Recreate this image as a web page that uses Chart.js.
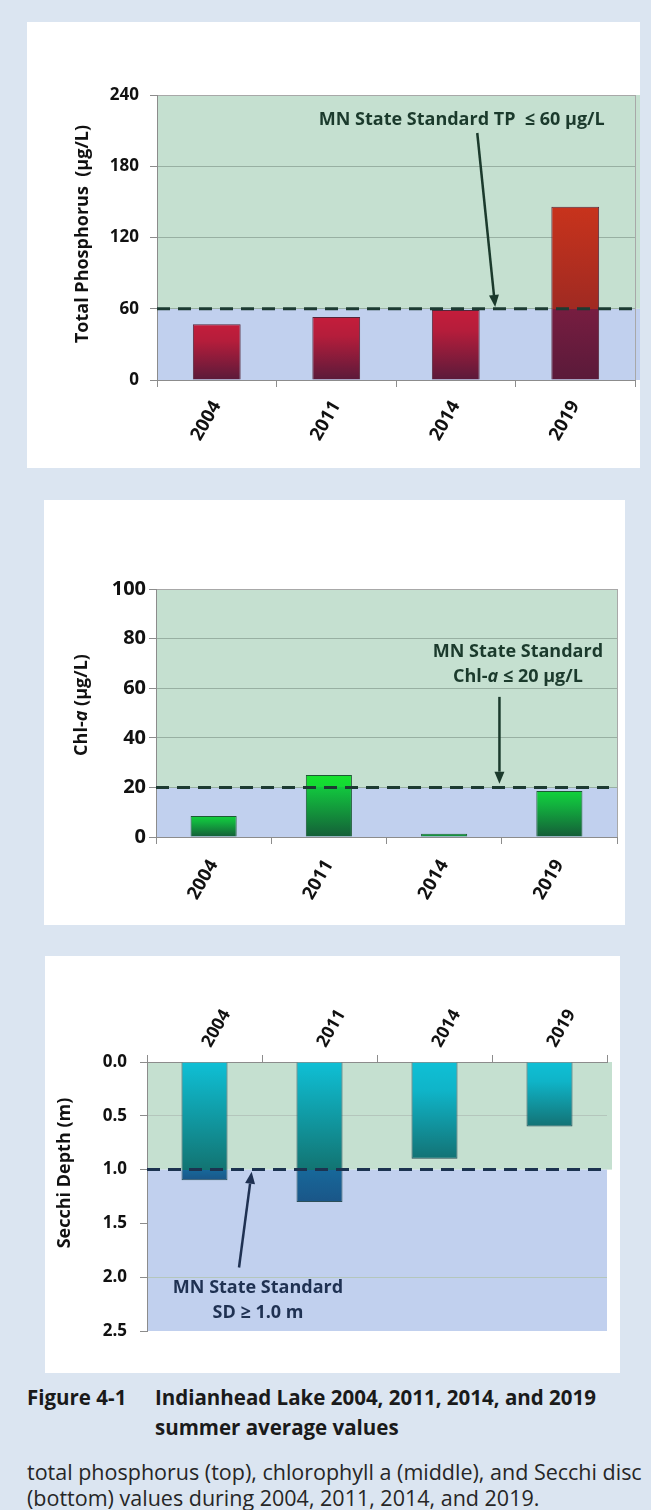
<!DOCTYPE html>
<html>
<head>
<meta charset="utf-8">
<title>Indianhead Lake summer averages</title>
<script src="https://cdn.jsdelivr.net/npm/chart.js@4.4.1/dist/chart.umd.min.js"></script>
<style>
  html, body { margin: 0; padding: 0; }
  body { width: 651px; height: 1510px; background: #dbe5f1; position: relative; overflow: hidden; font-family: "Open Sans", sans-serif; }
  .panel { position: absolute; background: #ffffff; }
  .panel canvas { display: block; }
  #p1 { left: 27px; top: 22px; width: 613px; height: 446px; }
  #p2 { left: 44px; top: 500px; width: 581px; height: 425px; }
  #p3 { left: 45px; top: 956px; width: 575px; height: 417px; }
  .cap { position: absolute; white-space: nowrap; color: #1a1a1a; }
  .fig { font-weight: bold; font-size: 20.5px; line-height: 30px; }
  .txt { font-size: 21.5px; line-height: 26px; color: #262626; }
</style>
</head>
<body>
<div class="panel" id="p1"><canvas id="tpChart" width="613" height="446"></canvas></div>
<div class="panel" id="p2"><canvas id="chlChart" width="581" height="425"></canvas></div>
<div class="panel" id="p3"><canvas id="sdChart" width="575" height="417"></canvas></div>

<div class="cap fig" style="left:27px;top:1382px;">Figure 4-1</div>
<div class="cap fig" style="left:155px;top:1382px;">Indianhead Lake 2004, 2011, 2014, and 2019<br>summer average values</div>
<div class="cap txt" style="left:27px;top:1459px;">total phosphorus (top), chlorophyll a (middle), and Secchi disc<br>(bottom) values during 2004, 2011, 2014, and 2019.</div>

<script>
var years = ["2004", "2011", "2014", "2019"];
var tpValues = [47, 53, 59, 146];      // total phosphorus, ug/L
var chlValues = [8.5, 25, 1.3, 18.5];  // chlorophyll-a, ug/L
var sdValues = [1.1, 1.3, 0.9, 0.6];   // secchi depth, m
var tpStandard = 60;
var chlStandard = 20;
var sdStandard = 1.0;
var tpTicks = [0, 60, 120, 180, 240];
var chlTicks = [0, 20, 40, 60, 80, 100];
var sdTicks = [0, 0.5, 1.0, 1.5, 2.0, 2.5];

var FONT = "'Open Sans', 'DejaVu Sans', sans-serif";
var GREEN_BAND = "#c5e0d0";
var BLUE_BAND = "#c1d0ee";
var AXIS = "#8c8c8c";

function font(size, style) {
  return (style || "") + " bold " + size + "px " + FONT;
}

// centred text made of plain / italic pieces
function drawRich(c, parts, x, y, size, color) {
  var widths = [], total = 0;
  parts.forEach(function (p) {
    c.font = font(size, p.italic ? "italic" : "");
    var w = c.measureText(p.text).width;
    widths.push(w);
    total += w;
  });
  var cx = x - total / 2;
  c.fillStyle = color;
  c.textAlign = "left";
  c.textBaseline = "middle";
  parts.forEach(function (p, i) {
    c.font = font(size, p.italic ? "italic" : "");
    c.fillText(p.text, cx, y);
    cx += widths[i];
  });
}

function drawArrow(c, x0, y0, x1, y1, color) {
  var ang = Math.atan2(y1 - y0, x1 - x0), head = 12, half = 5;
  var bx = x1 - head * Math.cos(ang), by = y1 - head * Math.sin(ang);
  c.strokeStyle = color;
  c.fillStyle = color;
  c.lineWidth = 2.5;
  c.beginPath();
  c.moveTo(x0, y0);
  c.lineTo(bx, by);
  c.stroke();
  c.beginPath();
  c.moveTo(x1, y1);
  c.lineTo(bx + half * Math.sin(ang), by - half * Math.cos(ang));
  c.lineTo(bx - half * Math.sin(ang), by + half * Math.cos(ang));
  c.closePath();
  c.fill();
}

// background bands, dashed standard line, arrow, note and y title
function standardPlugin(cfg) {
  return {
    id: "standard",
    beforeDraw: function (chart) {
      var c = chart.ctx, a = chart.chartArea, y = chart.scales.y;
      var ys = y.getPixelForValue(cfg.value);
      var yLo = y.getPixelForValue(y.min), yHi = y.getPixelForValue(y.max);
      c.save();
      c.fillStyle = cfg.lowBand;
      c.fillRect(a.left, Math.min(ys, yLo), a.width + cfg.lowExtra, Math.abs(yLo - ys));
      c.fillStyle = cfg.highBand;
      c.fillRect(a.left, Math.min(ys, yHi), a.width + cfg.highExtra, Math.abs(yHi - ys));
      c.restore();
    },
    afterDatasetsDraw: function (chart) {
      var c = chart.ctx, a = chart.chartArea, x = chart.scales.x, y = chart.scales.y;
      var ys = y.getPixelForValue(cfg.value);
      c.save();
      if (cfg.rightBorder) {
        c.strokeStyle = "#a8a8a8";
        c.lineWidth = 1;
        c.beginPath();
        c.moveTo(a.right + 0.5, a.top);
        c.lineTo(a.right + 0.5, a.bottom);
        c.stroke();
      }
      c.strokeStyle = cfg.lineColor;
      c.lineWidth = 3;
      c.setLineDash([13, 8]);
      c.beginPath();
      c.moveTo(a.left, ys);
      c.lineTo(a.right + cfg.dashExtra, ys);
      c.stroke();
      c.setLineDash([]);
      drawArrow(c,
        x.getPixelForValue(cfg.arrow.from[0]), y.getPixelForValue(cfg.arrow.from[1]),
        x.getPixelForValue(cfg.arrow.to[0]), y.getPixelForValue(cfg.arrow.to[1]),
        cfg.noteColor);
      cfg.notes.forEach(function (n) {
        drawRich(c, n.parts, x.getPixelForValue(n.at[0]), y.getPixelForValue(n.at[1]), 18, cfg.noteColor);
      });
      c.translate(cfg.title.x, cfg.title.y);
      c.rotate(-Math.PI / 2);
      drawRich(c, cfg.title.parts, 0, 0, 18, "#111111");
      c.restore();
    }
  };
}

// per-bar vertical gradient, split where the bar crosses the standard
function barFill(limit, first, second, short) {
  return function (ctx) {
    var chart = ctx.chart;
    if (!chart.chartArea || !chart.scales.y || ctx.type !== "data") return short[0];
    var y = chart.scales.y;
    var p0 = y.getPixelForValue(0), pv = y.getPixelForValue(ctx.raw), ps = y.getPixelForValue(limit);
    var start = Math.min(p0, pv), end = Math.max(p0, pv);
    var g = chart.ctx.createLinearGradient(0, start, 0, end);
    var f = (ps - start) / (end - start);
    if (f > 0.02 && f < 0.98) {
      g.addColorStop(0, first[0]);
      g.addColorStop(f, first[1]);
      g.addColorStop(f + 0.001, second[0]);
      g.addColorStop(1, second[1]);
    } else {
      g.addColorStop(0, short[0]);
      g.addColorStop(0.3, short[1]);
      g.addColorStop(1, short[2]);
    }
    return g;
  };
}

function yearAxis(position, height, pad, size, shift) {
  return {
    position: position,
    grid: { drawOnChartArea: false, offset: true, tickLength: 7, color: AXIS },
    border: { color: AXIS },
    ticks: {
      autoSkip: false, minRotation: 60, maxRotation: 60, padding: pad, labelOffset: shift,
      color: "#111111", font: { family: FONT, size: size, weight: "bold" }
    },
    afterFit: function (s) { s.height = height; }
  };
}

function valueAxis(tickList, width, pad, size, gridColor, reverse, format) {
  return {
    min: tickList[0],
    max: tickList[tickList.length - 1],
    reverse: reverse,
    afterBuildTicks: function (s) {
      s.ticks = tickList.map(function (v) { return { value: v }; });
    },
    ticks: {
      color: "#111111", padding: pad,
      font: { family: FONT, size: size, weight: "bold" },
      callback: format || function (v) { return String(v); }
    },
    grid: { color: gridColor, tickColor: AXIS, tickLength: 7 },
    border: { color: AXIS },
    afterFit: function (s) { s.width = width; }
  };
}

var common = {
  responsive: false,
  animation: false,
  plugins: { legend: { display: false }, tooltip: { enabled: false } }
};

function opts(padding, scales) {
  return Object.assign({}, common, { layout: { padding: padding }, scales: scales });
}

new Chart(document.getElementById("tpChart"), {
  type: "bar",
  data: {
    labels: years,
    datasets: [{
      data: tpValues,
      backgroundColor: barFill(tpStandard, ["#c8331c", "#a02a22"], ["#771d40", "#5a1a3a"], ["#c41d3b", "#b51d3b", "#5a1a3a"]),
      borderColor: "#55263a", borderWidth: 1,
      categoryPercentage: 1, barPercentage: 0.4
    }]
  },
  options: opts({ top: 73, right: 5, left: 0, bottom: 0 }, {
    x: yearAxis("bottom", 88, 10, 18.5, 0),
    y: valueAxis(tpTicks, 130, 11, 17, function (ctx) {
      return ctx.tick.value === 240 ? "#a8a8a8" : "#98b0a2";
    }, false)
  }),
  plugins: [standardPlugin({
    value: tpStandard, lowBand: BLUE_BAND, highBand: GREEN_BAND, lowExtra: 5, highExtra: 5,
    dashExtra: 5, rightBorder: true, lineColor: "#1d3b32", noteColor: "#1b3a2c",
    arrow: { from: [2.18, 208], to: [2.33, 61.5] },
    notes: [{ parts: [{ text: "MN State Standard TP  \u2264 60 \u00b5g/L" }], at: [2.05, 219] }],
    title: { x: 56, y: 212, parts: [{ text: "Total Phosphorus  (\u00b5g/L)" }] }
  })]
});

new Chart(document.getElementById("chlChart"), {
  type: "bar",
  data: {
    labels: years,
    datasets: [{
      data: chlValues,
      backgroundColor: barFill(chlStandard, ["#16e22e", "#14d834"], ["#12c63e", "#145e38"], ["#12d23c", "#12b23e", "#145c38"]),
      borderColor: "#1d5a34", borderWidth: 1,
      categoryPercentage: 1, barPercentage: 0.4
    }]
  },
  options: opts({ top: 89, right: 8, left: 0, bottom: 0 }, {
    x: yearAxis("bottom", 88, 12, 18.5, 0),
    y: valueAxis(chlTicks, 112, 3, 20, function (ctx) {
      return ctx.tick.value === 100 ? "#a8a8a8" : "#98b0a2";
    }, false)
  }),
  plugins: [standardPlugin({
    value: chlStandard, lowBand: BLUE_BAND, highBand: GREEN_BAND, lowExtra: 0, highExtra: 0,
    dashExtra: -8, rightBorder: true, lineColor: "#1d3b32", noteColor: "#1b3a2c",
    arrow: { from: [2.48, 56.5], to: [2.48, 21.5] },
    notes: [
      { parts: [{ text: "MN State Standard" }], at: [2.64, 74.6] },
      { parts: [{ text: "Chl-" }, { text: "a", italic: true }, { text: " \u2264 20 \u00b5g/L" }], at: [2.64, 64.5] }
    ],
    title: { x: 38, y: 205, parts: [{ text: "Chl-" }, { text: "a", italic: true }, { text: " (\u00b5g/L)" }] }
  })]
});

new Chart(document.getElementById("sdChart"), {
  type: "bar",
  data: {
    labels: years,
    datasets: [{
      data: sdValues,
      backgroundColor: barFill(sdStandard, ["#0fc0d6", "#127472"], ["#17689a", "#1a5688"], ["#0fc0d6", "#0fb4c8", "#137274"]),
      borderColor: "#2c4f58", borderWidth: 1,
      categoryPercentage: 1, barPercentage: 0.4
    }]
  },
  options: opts({ top: 0, right: 13, left: 0, bottom: 42 }, {
    x: yearAxis("top", 106, 4, 17.5, 20),
    y: valueAxis(sdTicks, 102, 13, 17, function (ctx) {
      var v = ctx.tick.value;
      return (v === 0.5 || v === 2) ? "#b4c6bc" : "rgba(0,0,0,0)";
    }, true, function (v) { return v.toFixed(1); })
  }),
  plugins: [standardPlugin({
    value: sdStandard, lowBand: GREEN_BAND, highBand: BLUE_BAND, lowExtra: 5, highExtra: 0,
    dashExtra: 0, rightBorder: false, lineColor: "#1c3350", noteColor: "#1f3152",
    arrow: { from: [0.30, 1.91], to: [0.41, 1.02] },
    notes: [
      { parts: [{ text: "MN State Standard" }], at: [0.465, 2.10] },
      { parts: [{ text: "SD \u2265 1.0 m" }], at: [0.465, 2.33] }
    ],
    title: { x: 20, y: 217, parts: [{ text: "Secchi Depth (m)" }] }
  })]
});
</script>
</body>
</html>
